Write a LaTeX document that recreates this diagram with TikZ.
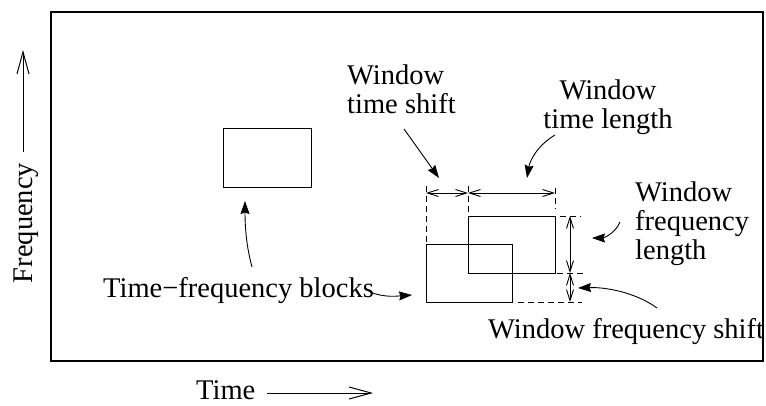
\documentclass[tikz,border=0pt]{standalone}
\usepackage{fontspec}
\setmainfont{Liberation Serif}
\usetikzlibrary{arrows.meta}

\begin{document}
\begin{tikzpicture}[
    x=1pt, y=-1pt,
    lbl/.style={font=\fontsize{28.5}{29}\selectfont, inner sep=0pt},
    blk/.style={draw, line width=1pt, inner sep=0pt, outer sep=0pt},
    dim/.style={line width=0.9pt, {Straight Barb[length=11pt,width=7pt]}-{Straight Barb[length=11pt,width=7pt]}},
    guide/.style={line width=0.9pt, dash pattern=on 6pt off 4pt},
    note/.style={line width=0.9pt, -{Stealth[length=13pt,width=9pt,inset=1.5pt]}},
    axis/.style={line width=1pt, -{Straight Barb[length=22pt,width=12pt]}},
]
    \useasboundingbox (0,0) rectangle (766,405);

    % time-frequency blocks
    \node (tfblock) [blk, minimum width=88pt, minimum height=59pt] at (267,157.5) {};
    \node (winA) [blk, minimum width=86pt, minimum height=58pt] at (469,273) {};
    \node (winB) [blk, minimum width=87pt, minimum height=57pt] at (511.5,244.5) {};

    % labels
    \node (tshift) [lbl, anchor=north west, align=left] at (347,64.5) {Window\\time shift};
    \node (tlength) [lbl, anchor=north, align=center] at (608,79.5) {Window\\time length};
    \node (flength) [lbl, anchor=north west, align=left] at (635,181.5) {Window\\frequency\\length};
    \node (fshift) [lbl, anchor=base west] at (488,338) {Window frequency shift};
    \node (blocks) [lbl, anchor=base west] at (103,297) {Time−frequency blocks};
    \node (timelbl) [lbl, anchor=base west] at (196,399) {Time};
    \node (freqlbl) [lbl, anchor=base, rotate=90] at (32,223) {Frequency};

    % frame
    \draw [line width=1.2pt] (51,12) rectangle (763,361);

    % axis arrows
    \coordinate (t0) at (267,393);
    \coordinate (t1) at (373,393);
    \coordinate (f0) at (23,152);
    \coordinate (f1) at (23,50);
    \draw [axis] (t0) -- (t1);
    \draw [axis] (f0) -- (f1);

    % dimension guides
    \coordinate (gA) at (426,186);
    \coordinate (gB) at (468,186);
    \coordinate (gC) at (555,188);
    \coordinate (gD) at (555,209);
    \draw [guide] (gA) -- (winA.north west);
    \draw [guide] (gB) -- (winB.north west);
    \draw [guide] (gC) -- (gD);
    \draw [guide] (560,216) -- (581,216);
    \draw [guide] (557,273) -- (583,273);
    \draw [guide] (518,302) -- (582,302);

    % dimension arrows
    \coordinate (dt0) at (426,193);
    \coordinate (dt1) at (468,193);
    \coordinate (dt2) at (555,193);
    \draw [dim] (dt0) -- (dt1);
    \draw [dim] (dt1) -- (dt2);
    \coordinate (df0) at (570,216);
    \coordinate (df1) at (570,273);
    \coordinate (df2) at (570,302);
    \draw [dim] (df0) -- (df1);
    \draw [dim] (df1) -- (df2);

    % pointers
    \coordinate (ptshift) at (439,178);
    \coordinate (ptlength) at (527,178);
    \coordinate (pflength) at (592,238);
    \coordinate (pfshift) at (578,288);
    \coordinate (pblock) at (245,201);
    \coordinate (pblockA) at (412,295);
    \draw [note] (404,129) -- (ptshift);
    \draw [note] (555,135) .. controls (538,145) and (530,160) .. (ptlength);
    \draw [note] (620,222) .. controls (615,234) and (603,238) .. (pflength);
    \draw [note] (657,308) .. controls (635,292) and (605,287) .. (pfshift);
    \draw [note] (252,267) .. controls (246,245) and (245,225) .. (pblock);
    \draw [note] (370,292) .. controls (385,298) and (398,296) .. (pblockA);

\end{tikzpicture}
\end{document}
